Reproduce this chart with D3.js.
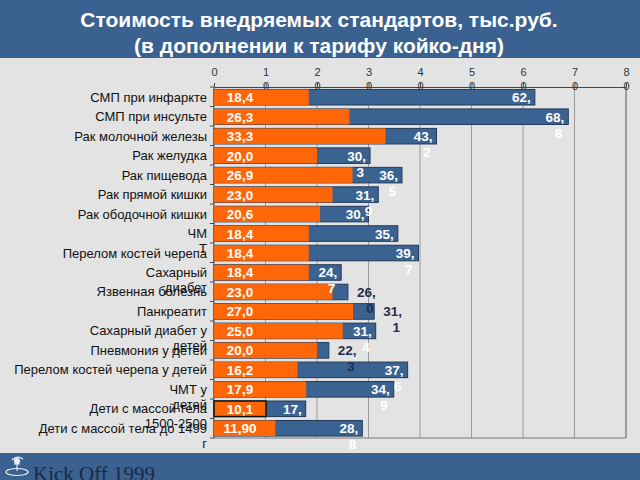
<!DOCTYPE html>
<html><head><meta charset="utf-8">
<script src="https://cdn.jsdelivr.net/npm/d3@7/dist/d3.min.js"></script>
<style>
html,body{margin:0;padding:0;background:#e3e3e3;}
svg{display:block;font-family:Arial,"Liberation Sans",sans-serif;}
</style></head>
<body>
<svg id="chart" width="640" height="480"></svg>
<script>
// ---- data ----
const titleLines = ["Стоимость внедряемых стандартов, тыс.руб.", "(в дополнении к тарифу койко-дня)"];
const categories = [
  "СМП при инфаркте", "СМП при инсульте", "Рак молочной железы", "Рак желудка",
  "Рак пищевода", "Рак прямой кишки", "Рак ободочной кишки", "ЧМ\nТ",
  "Перелом костей черепа", "Сахарный\nдиабет", "Язвенная болезнь", "Панкреатит",
  "Сахарный диабет у\nдетей", "Пневмония у детей", "Перелом костей черепа у детей",
  "ЧМТ у\nдетей", "Дети с массой тела\n1500-2500", "Дети с массой тела до 1499\nг"
];
const tariffValues = [18.4, 26.3, 33.3, 20.0, 26.9, 23.0, 20.6, 18.4, 18.4, 18.4, 23.0, 27.0, 25.0, 20.0, 16.2, 17.9, 10.1, 11.9];
const tariffLabels = ["18,4","26,3","33,3","20,0","26,9","23,0","20,6","18,4","18,4","18,4","23,0","27,0","25,0","20,0","16,2","17,9","10,1","11,90"];
const standardValues = [62.3, 68.8, 43.2, 30.3, 36.5, 31.9, 30.0, 35.7, 39.7, 24.7, 26.0, 31.1, 31.4, 22.3, 37.6, 34.9, 17.8, 28.8];
const standardLabels = ["62,","68,8","43,2","30,3","36,5","31,9","30,","35,","39,7","24,7","26,0","31,1","31,4","22,3","37,6","34,9","17,","28,8"];
const xTicks = [0, 10, 20, 30, 40, 50, 60, 70, 80];
const footerText = "Kick Off 1999";

// ---- colours ----
const BLUE = "#3b6391", ORANGE = "#ff6608", BAND = "#3a6190";

const svg = d3.select("#chart");
svg.append("rect").attr("width",640).attr("height",480).attr("fill","#e3e3e3");

// title band
svg.append("rect").attr("x",0).attr("y",0).attr("width",640).attr("height",58).attr("fill",BAND);
svg.append("text").attr("x",319).attr("y",27).attr("text-anchor","middle")
  .attr("fill","#fff").attr("font-weight","bold").attr("font-size",21).text(titleLines[0]);
svg.append("text").attr("x",319).attr("y",53).attr("text-anchor","middle")
  .attr("fill","#fff").attr("font-weight","bold").attr("font-size",21).text(titleLines[1]);

// footer band
svg.append("rect").attr("x",0).attr("y",453).attr("width",640).attr("height",27).attr("fill",BAND);
const logo = svg.append("g").attr("fill","none").attr("stroke","#e8eef6").attr("stroke-width",1.2);
logo.append("ellipse").attr("cx",17).attr("cy",472).attr("rx",11).attr("ry",3.5);
logo.append("path").attr("d","M12 460 Q17 455 23 459 M17 459 L17 471 M14 464 L20 464");
logo.append("circle").attr("cx",17).attr("cy",461).attr("r",2.5).attr("fill","#e8eef6");
svg.append("text").attr("x",33).attr("y",481).attr("font-family","'Liberation Serif','Times New Roman',serif")
  .attr("font-size",21).attr("fill","#1c2944").text(footerText);

// scales
const x = d3.scaleLinear().domain([0, 80]).range([214, 626]);
const y = d3.scaleBand().domain(d3.range(categories.length)).range([87.5, 438]).paddingInner(0.2).paddingOuter(0.1);
const yTop = 87, yBot = 438;

// gridlines
svg.append("g").selectAll("line").data(xTicks.filter(t => t > 0 && t < 80)).join("line")
  .attr("x1", d => x(d)).attr("x2", d => x(d)).attr("y1", yTop).attr("y2", yBot)
  .attr("stroke","#9a9a9a").attr("stroke-width",1);
// right border
svg.append("line").attr("x1",x(80)).attr("x2",x(80)).attr("y1",yTop).attr("y2",yBot).attr("stroke","#555").attr("stroke-width",1);
// bottom line
svg.append("line").attr("x1",x(0)).attr("x2",x(80)).attr("y1",yBot).attr("y2",yBot).attr("stroke","#777").attr("stroke-width",1);

// top axis
const axisG = svg.append("g").attr("transform",`translate(0,${yTop})`)
  .call(d3.axisTop(x).tickValues(xTicks).tickSize(4).tickSizeOuter(0).tickFormat(d3.format("d")));
axisG.select(".domain").attr("stroke","#444");
axisG.selectAll(".tick line").attr("stroke","#444");
axisG.selectAll(".tick text").each(function(d){
  const t = d3.select(this);
  const s = String(d);
  t.text(null).attr("font-size",11).attr("fill","#333").attr("font-family","Arial,'Liberation Sans',sans-serif").attr("y",-11);
  s.split("").forEach((ch,i) => t.append("tspan").attr("x",0).attr("dy", i === 0 ? 0 : 14).text(ch));
});

// left axis
svg.append("line").attr("x1",x(0)).attr("x2",x(0)).attr("y1",yTop).attr("y2",yBot).attr("stroke","#444");
svg.append("g").selectAll("line").data(d3.range(categories.length + 1)).join("line")
  .attr("x1", x(0) - 4).attr("x2", x(0))
  .attr("y1", i => yTop + i * (yBot - yTop) / categories.length)
  .attr("y2", i => yTop + i * (yBot - yTop) / categories.length)
  .attr("stroke","#444");

// bars
const rows = d3.range(categories.length);
svg.append("g").selectAll("rect").data(rows).join("rect")
  .attr("x", x(0)).attr("y", i => y(i)).attr("height", y.bandwidth())
  .attr("width", i => x(standardValues[i]) - x(0))
  .attr("fill", BLUE).attr("stroke", "#22395a").attr("stroke-width", 1);
svg.append("g").selectAll("rect").data(rows).join("rect")
  .attr("x", x(0)).attr("y", i => y(i)).attr("height", y.bandwidth())
  .attr("width", i => x(tariffValues[i]) - x(0))
  .attr("fill", ORANGE)
  .attr("stroke", i => i === 16 ? "#111" : "none").attr("stroke-width", 1.5);

// category labels
svg.append("g").selectAll("text").data(rows).join("text")
  .attr("font-size", 13).attr("fill", "#111").attr("text-anchor", "end")
  .attr("y", i => y(i) + y.bandwidth() / 2 + 4.5)
  .each(function(i){
    const t = d3.select(this);
    categories[i].split("\n").forEach((line, k) =>
      t.append("tspan").attr("x", 207).attr("dy", k === 0 ? 0 : 15).text(line));
  });

// tariff labels (orange)
svg.append("g").selectAll("text").data(rows).join("text")
  .attr("x", x(0) + 26).attr("y", i => y(i) + y.bandwidth() / 2 + 5)
  .attr("text-anchor", "middle").attr("font-size", 13.5).attr("font-weight", "bold")
  .attr("fill", "#fff").text(i => tariffLabels[i]);

// standard labels (blue)
const lblG = svg.append("g");
rows.forEach(i => {
  const parts = standardLabels[i].split(",");
  const line1 = parts[0] + ",", line2 = parts[1] || "";
  const visible = x(standardValues[i]) - x(tariffValues[i]);
  const outside = visible < 25;
  const t = lblG.append("text").attr("font-size", 13.5).attr("font-weight", "bold")
    .attr("text-anchor", "end").attr("fill", outside ? "#1f2d4f" : "#fff")
    .attr("y", y(i) + y.bandwidth() / 2 + 5);
  const s1 = t.append("tspan").text(line1);
  const w = s1.node().getComputedTextLength();
  const xr = outside ? x(standardValues[i]) + 9 + w : x(standardValues[i]) - 4;
  s1.attr("x", xr);
  if (line2) t.append("tspan").attr("x", xr - 2).attr("dy", 16).text(line2);
});
</script>
</body></html>
